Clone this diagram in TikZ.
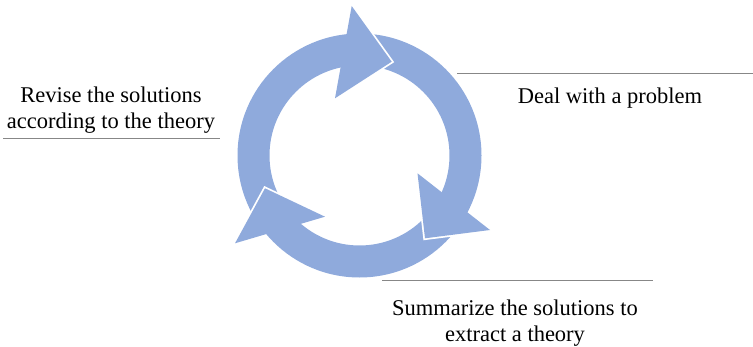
\documentclass[tikz,border=0pt]{standalone}
\usepackage{fontspec}
\setmainfont{Liberation Serif}
\definecolor{ringblue}{RGB}{143,170,220}
\definecolor{rulegray}{RGB}{135,135,135}
\tikzset{
  lbl/.style={font=\fontsize{22.5}{26}\selectfont, inner sep=0pt, text=black},
  rulemark/.style={draw=rulegray, line width=1pt},
  headgap/.style={draw=white, line width=3.5pt, line join=miter},
  ringfill/.style={fill=ringblue}
}
\begin{document}
\begin{tikzpicture}[x=1pt,y=1pt]
\useasboundingbox (0,0) rectangle (753,346);
% ring
\coordinate (c) at (359.5,190.5);
\fill[ringfill, even odd rule] (c) circle[radius=122] (c) circle[radius=90];
% arrow heads (outer point, tip, inner point)
\coordinate (Ao) at (351.7,340);   \coordinate (At) at (391.7,284.3); \coordinate (Ai) at (335,247.7);
\coordinate (Bo) at (490,116);     \coordinate (Bt) at (425,107.7);   \coordinate (Bi) at (417.5,172.7);
\coordinate (Co) at (235,102.7);   \coordinate (Ct) at (265,157.7);   \coordinate (Ci) at (325,129.3);
\foreach \h in {A,B,C}{
  \draw[headgap] (\h o) -- (\h t) -- (\h i);
  \fill[ringfill] (\h o) -- (\h t) -- (\h i) -- cycle;
}
% rules
\coordinate (r1a) at (457,272.7); \coordinate (r1b) at (753,272.7);
\coordinate (r2a) at (3,207.7);   \coordinate (r2b) at (220,207.7);
\coordinate (r3a) at (382,65.5);  \coordinate (r3b) at (653,65.5);
\draw[rulemark] (r1a) -- (r1b);
\draw[rulemark] (r2a) -- (r2b);
\draw[rulemark] (r3a) -- (r3b);
% labels (base anchor = baseline of the last line)
\node[lbl, anchor=base] (deal) at (610,242) {Deal with a problem};
\node[lbl, anchor=base, align=center] (summ) at (515,5) {Summarize the solutions to\\extract a theory};
\node[lbl, anchor=base, align=center] (revise) at (111,217) {Revise the solutions\\according to the theory};
\end{tikzpicture}
\end{document}
